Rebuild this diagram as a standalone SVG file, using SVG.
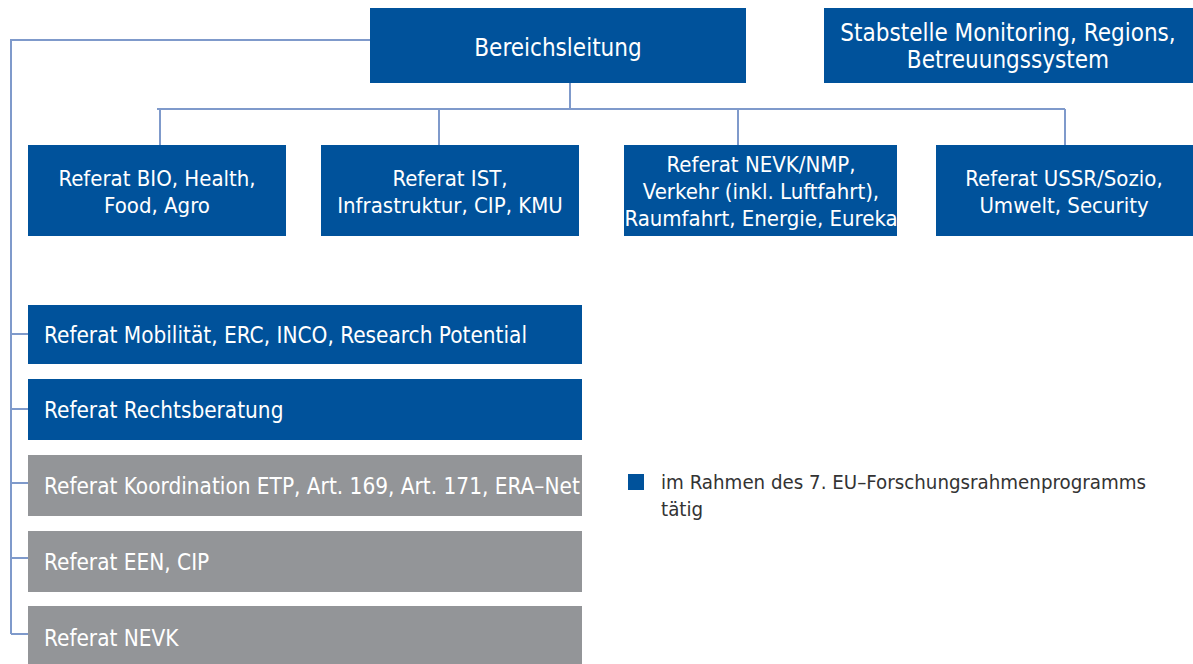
<svg xmlns="http://www.w3.org/2000/svg" width="1193" height="664" viewBox="0 0 1193 664">
  <style>
    .blue { fill: #00529b; }
    .gray { fill: #939598; }
    .lbl { font-family: "DejaVu Sans Condensed", "DejaVu Sans", sans-serif; font-size: 22px; fill: #ffffff; }
    .big { font-size: 24px; }
    .row { font-size: 22.4px; }
    .c { text-anchor: middle; }
    .legend { font-family: "DejaVu Sans Condensed", "DejaVu Sans", sans-serif; font-size: 20.3px; fill: #333333; }
    .wire { fill: none; stroke: #7f9acb; stroke-width: 2; }
  </style>

  <!-- connectors -->
  <g id="connectors">
    <path class="wire" d="M370 40 H11 V634"/>
    <path class="wire" d="M11 334 H28 M11 409 H28 M11 483 H28 M11 558 H28 M11 634 H28"/>
    <path class="wire" d="M570 83 V109 M157 109 H1065 M160 109 V145 M439 109 V145 M738 109 V145 M1065 109 V145"/>
  </g>

  <g id="bereichsleitung">
    <rect class="blue" x="370" y="8" width="376" height="75"/>
    <text class="lbl big c" x="558" y="56">Bereichsleitung</text>
  </g>

  <g id="stabstelle">
    <rect class="blue" x="824" y="8" width="369" height="75"/>
    <text class="lbl big c" x="1008" y="41">Stabstelle Monitoring, Regions,</text>
    <text class="lbl big c" x="1008" y="68">Betreuungssystem</text>
  </g>

  <g id="ref-bio">
    <rect class="blue" x="28" y="145" width="258" height="91"/>
    <text class="lbl c" x="157" y="186">Referat BIO, Health,</text>
    <text class="lbl c" x="157" y="213">Food, Agro</text>
  </g>

  <g id="ref-ist">
    <rect class="blue" x="321" y="145" width="258" height="91"/>
    <text class="lbl c" x="450" y="186">Referat IST,</text>
    <text class="lbl c" x="450" y="213">Infrastruktur, CIP, KMU</text>
  </g>

  <g id="ref-nevk-nmp">
    <rect class="blue" x="624" y="145" width="273" height="91"/>
    <text class="lbl c" x="761" y="172">Referat NEVK/NMP,</text>
    <text class="lbl c" x="761" y="199">Verkehr (inkl. Luftfahrt),</text>
    <text class="lbl c" x="761" y="226">Raumfahrt, Energie, Eureka</text>
  </g>

  <g id="ref-ussr">
    <rect class="blue" x="936" y="145" width="257" height="91"/>
    <text class="lbl c" x="1064" y="186">Referat USSR/Sozio,</text>
    <text class="lbl c" x="1064" y="213">Umwelt, Security</text>
  </g>

  <g id="ref-mobilitaet">
    <rect class="blue" x="28" y="305" width="554" height="59"/>
    <text class="lbl row" x="44" y="343">Referat Mobilität, ERC, INCO, Research Potential</text>
  </g>

  <g id="ref-recht">
    <rect class="blue" x="28" y="379" width="554" height="61"/>
    <text class="lbl row" x="44" y="418">Referat Rechtsberatung</text>
  </g>

  <g id="ref-koordination">
    <rect class="gray" x="28" y="455" width="554" height="61"/>
    <text class="lbl row" x="44" y="494">Referat Koordination ETP, Art. 169, Art. 171, ERA–Net</text>
  </g>

  <g id="ref-een">
    <rect class="gray" x="28" y="531" width="554" height="61"/>
    <text class="lbl row" x="44" y="570">Referat EEN, CIP</text>
  </g>

  <g id="ref-nevk">
    <rect class="gray" x="28" y="606" width="554" height="58"/>
    <text class="lbl row" x="44" y="646">Referat NEVK</text>
  </g>

  <g id="legend">
    <rect class="blue" x="628" y="474" width="16" height="16"/>
    <text class="legend" x="661" y="489">im Rahmen des 7. EU–Forschungsrahmenprogramms</text>
    <text class="legend" x="661" y="516">tätig</text>
  </g>
</svg>
